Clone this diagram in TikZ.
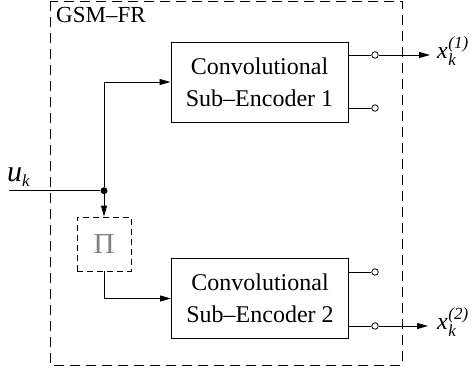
\documentclass[tikz,border=0pt]{standalone}
\usepackage{fontspec}
\setmainfont{Liberation Serif}
\usetikzlibrary{arrows.meta}
\newcommand{\smallit}[1]{{\fontsize{17}{17}\selectfont\itshape #1}}
\newcommand{\outlbl}[1]{\textit{x}\kern0.5pt\rlap{\raisebox{-7pt}{\smallit{k}}}\raisebox{10pt}{\smallit{(#1)}}}
\tikzset{
  encbox/.style={draw, line width=1pt, minimum width=177pt, minimum height=80pt, inner sep=0pt, align=center, font=\fontsize{24}{32}\selectfont},
  pibox/.style={draw, dashed, dash pattern=on 6pt off 4pt, line width=0.9pt, minimum width=54pt, minimum height=54pt, inner sep=0pt, text=gray, font=\fontsize{29}{29}\selectfont},
  port/.style={circle, draw, line width=0.8pt, fill=white, minimum size=6.5pt, inner sep=0pt},
  jdot/.style={circle, fill=black, minimum size=7pt, inner sep=0pt},
  wire/.style={line width=0.9pt},
  arr/.style={wire, -{Triangle[length=11pt,width=6pt]}},
  lbl/.style={anchor=base west, inner sep=0pt, font=\fontsize{24}{24}\selectfont},
}
\begin{document}
\begin{tikzpicture}[x=1pt,y=-1pt]
\useasboundingbox (0,0) rectangle (473,376);
% outer dashed box
\draw[line width=0.9pt, dash pattern=on 10pt off 6pt] (50,1) rectangle (402,365);
\node[anchor=base west, inner sep=0pt, font=\fontsize{23}{23}\selectfont] (gsm) at (56,22.5) {GSM--FR};
% encoders
\node[encbox] (enc1) at (259.5,82) {Convolutional\\Sub--Encoder 1};
\node[encbox] (enc2) at (260,298.5) {Convolutional\\Sub--Encoder 2};
% interleaver
\node[pibox] (pi) at (104,244) {Π};
% input
\coordinate (uin) at (9,190.7);
\node[jdot] (jn) at (104,190.7) {};
\node[lbl, font=\fontsize{30}{30}\selectfont] (ulbl) at (7,181) {\textit{u}\raisebox{-5pt}{\fontsize{17}{17}\selectfont\itshape k}};
\draw[wire] (uin) -- (jn);
\draw[arr] (jn) |- (enc1.west);
\draw[arr] (jn) -- (pi.north);
\draw[arr] (pi.south) |- (enc2.west);
% outputs encoder 1
\node[port] (p11) at (375,55) {};
\node[port] (p12) at (375,108) {};
\coordinate (o1) at (430,55);
\draw[wire] (enc1.east |- p11) -- (p11);
\draw[wire] (enc1.east |- p12) -- (p12);
\draw[arr] (p11) -- (o1);
\node[lbl] (x1) at (437,58.5) {\outlbl{1}};
% outputs encoder 2
\node[port] (p21) at (375,272) {};
\node[port] (p22) at (375,326) {};
\coordinate (o2) at (428,326);
\draw[wire] (enc2.east |- p21) -- (p21);
\draw[wire] (enc2.east |- p22) -- (p22);
\draw[arr] (p22) -- (o2);
\node[lbl] (x2) at (437,329.5) {\outlbl{2}};
\end{tikzpicture}
\end{document}
